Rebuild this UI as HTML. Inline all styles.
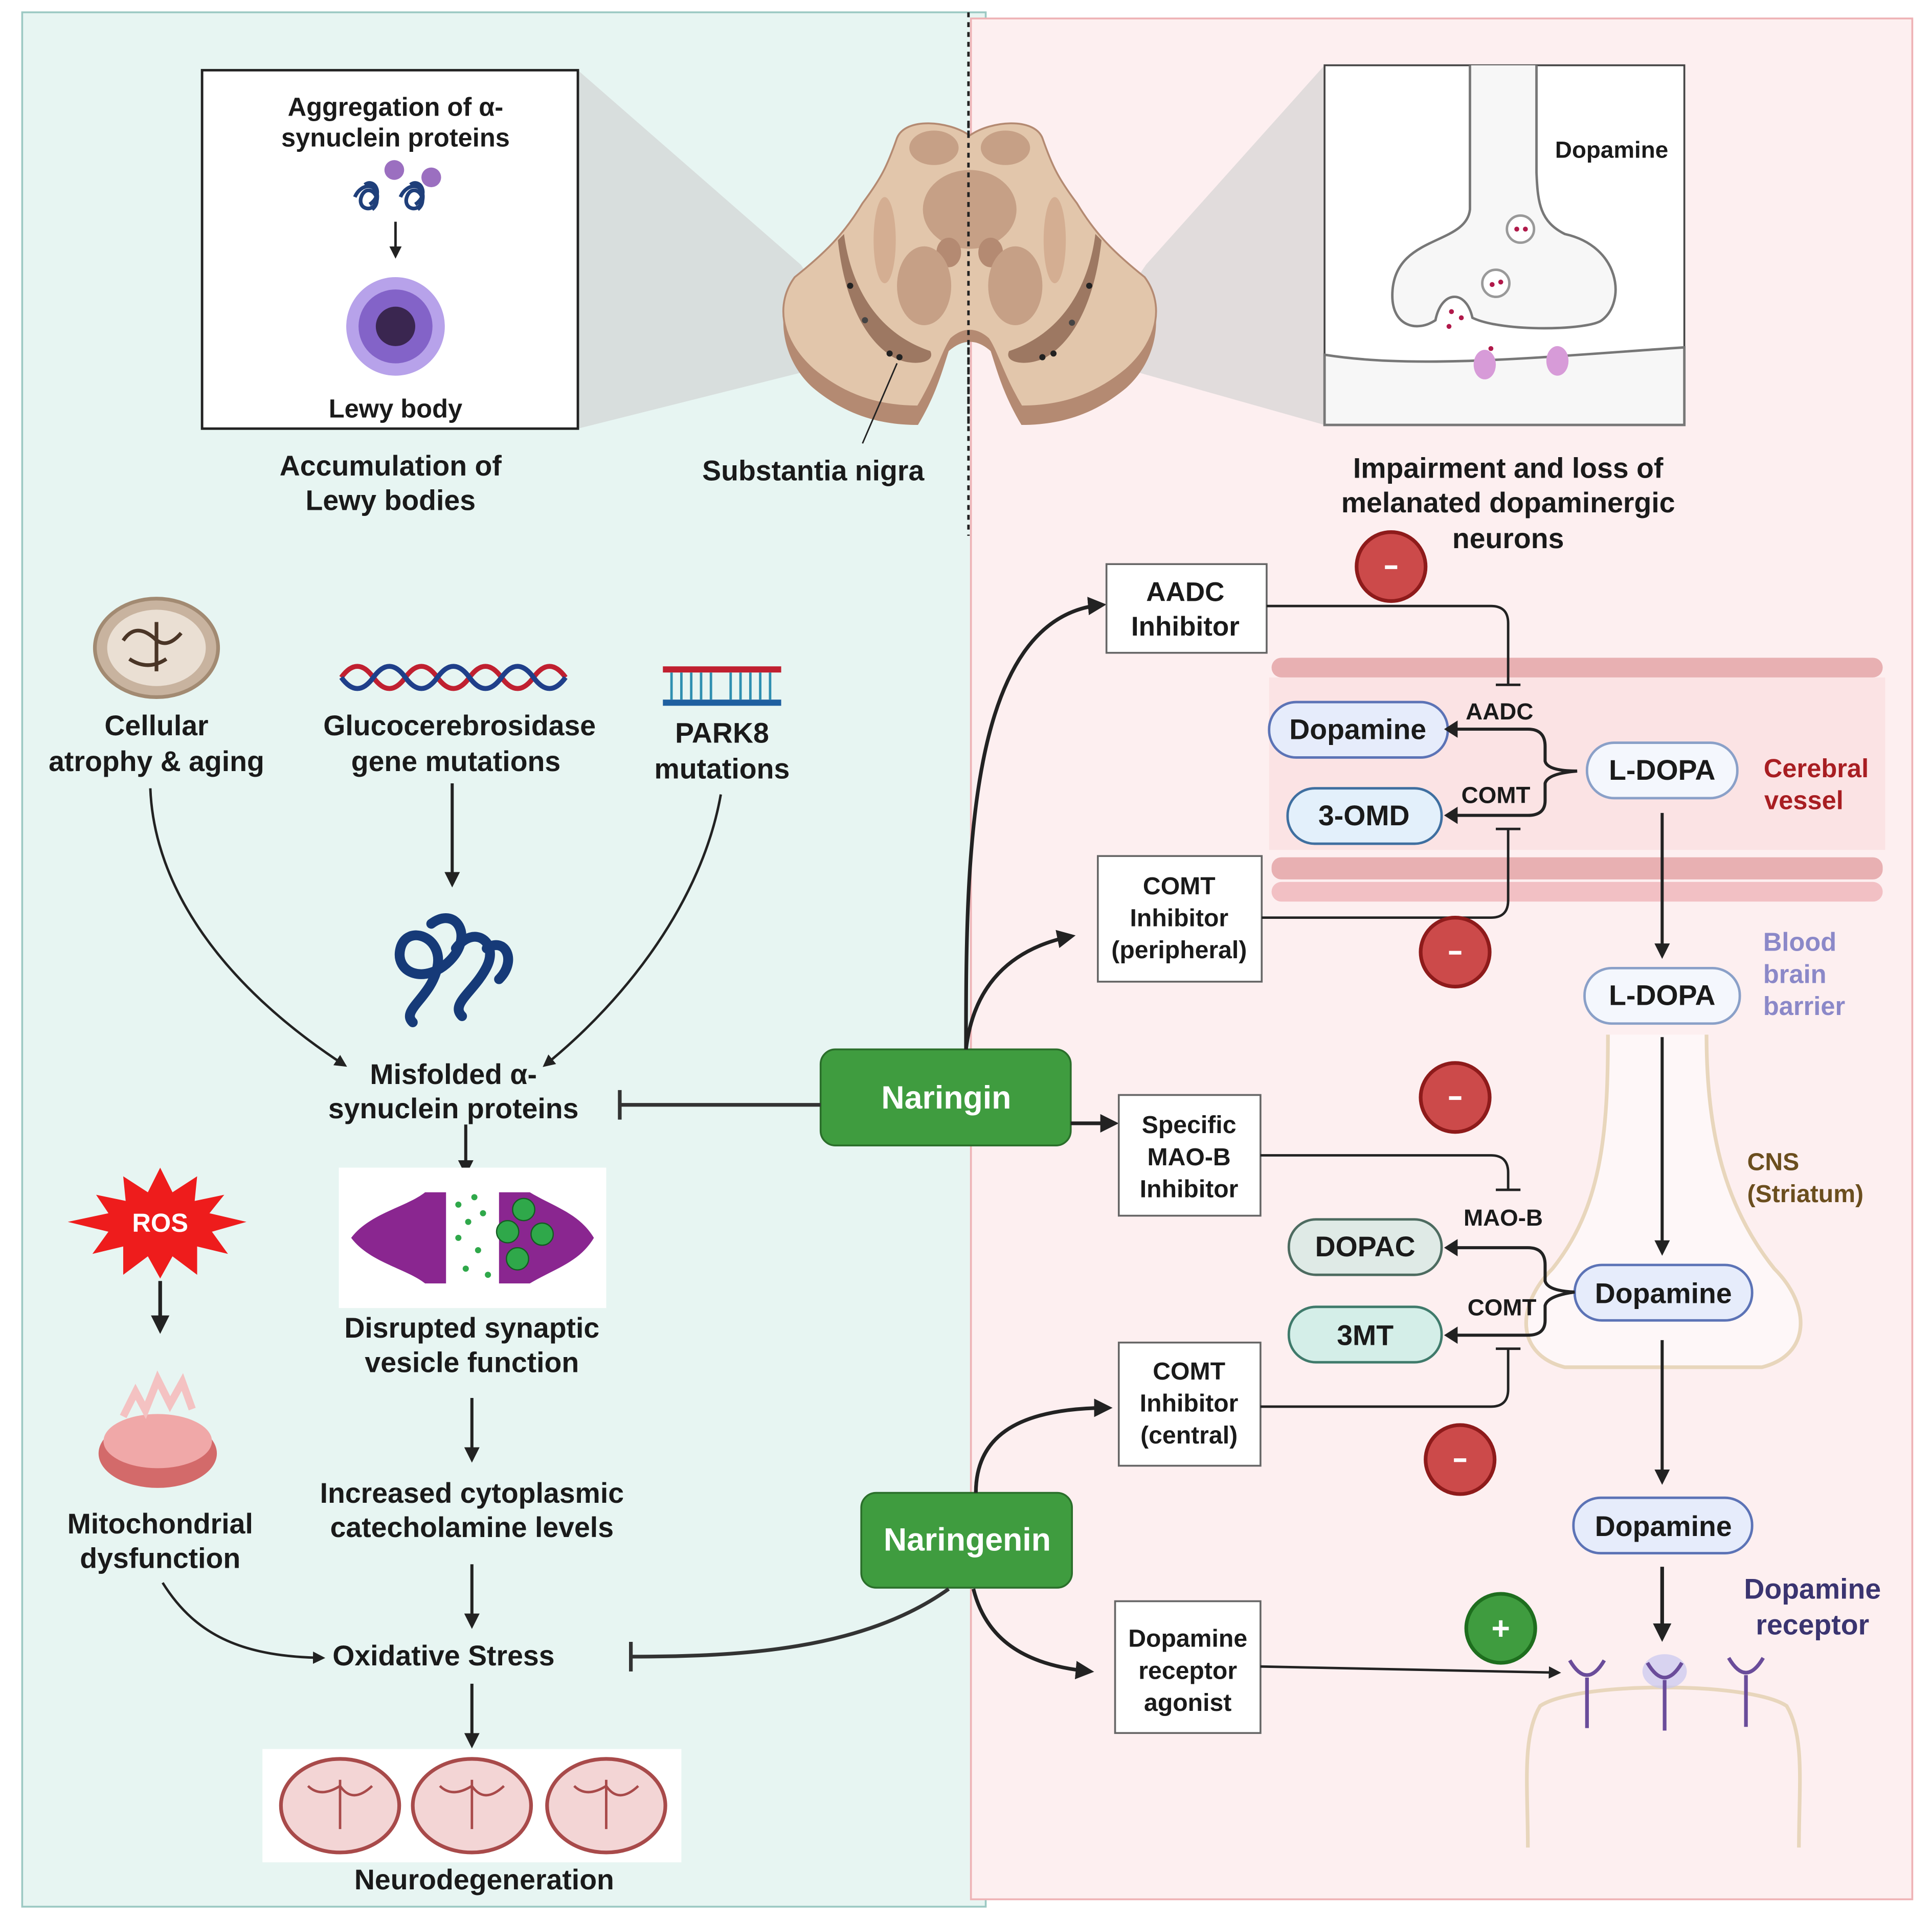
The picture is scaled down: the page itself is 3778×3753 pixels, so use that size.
<!DOCTYPE html>
<html><head><meta charset="utf-8"><style>
html,body{margin:0;padding:0;background:#fff;}
svg{display:block;}
text{font-family:"Liberation Sans",sans-serif;font-weight:bold;fill:#1a1a1a;}
</style></head><body>
<svg width="3778" height="3753" viewBox="0 0 1568 1558" preserveAspectRatio="none" xmlns="http://www.w3.org/2000/svg">
<defs>
<marker id="ah" viewBox="0 0 10 10" refX="8" refY="5" markerWidth="5" markerHeight="5" orient="auto-start-reverse"><path d="M0,0 L10,5 L0,10 z" fill="#222"/></marker>
</defs>
<rect width="1568" height="1558" fill="#fff"/>
<!-- panels -->
<rect x="18" y="10" width="782" height="1538" fill="#e7f5f2" stroke="#9cc9c3" stroke-width="1.5"/>
<rect x="788" y="15" width="764" height="1527" fill="#fdeff0" stroke="#eeb2b5" stroke-width="1.5"/>
<line x1="786" y1="10" x2="786" y2="435" stroke="#222" stroke-width="2" stroke-dasharray="4,4"/>

<!-- gray cones -->
<polygon points="469,57 469,348 700,290 650,215" fill="#cfcfcf" opacity="0.6"/>
<polygon points="1075,53 1075,345 880,290 930,215" fill="#cfcfcf" opacity="0.6"/>

<!-- brain section -->
<g>
<path d="M787,115 C770,100 735,95 728,115 C720,140 715,150 700,170 C685,195 670,215 645,230 C630,250 632,290 660,315 C690,340 720,345 745,345 C760,320 765,300 770,285 Q787,270 804,285 C809,300 814,320 829,345 C854,345 884,340 914,315 C942,290 944,250 929,230 C904,215 889,195 874,170 C859,150 854,140 846,115 C839,95 804,100 787,115 z" fill="#b48a72"/>
<path d="M787,110 C770,98 735,95 728,112 C720,135 715,145 700,165 C685,190 670,205 645,225 C630,245 632,275 660,300 C690,325 720,330 745,330 C760,305 765,285 772,275 Q787,262 802,275 C809,285 814,305 829,330 C854,330 884,325 914,300 C942,275 944,245 929,225 C904,205 889,190 874,165 C859,145 854,135 846,112 C839,95 804,98 787,110 z" fill="#e2c6ab" stroke="#b48a72" stroke-width="1.5"/>
<ellipse cx="758" cy="120" rx="20" ry="14" fill="#c6a086"/>
<ellipse cx="816" cy="120" rx="20" ry="14" fill="#c6a086"/>
<ellipse cx="787" cy="170" rx="38" ry="32" fill="#c6a086"/>
<ellipse cx="770" cy="205" rx="10" ry="12" fill="#b48a72"/>
<ellipse cx="804" cy="205" rx="10" ry="12" fill="#b48a72"/>
<ellipse cx="750" cy="232" rx="22" ry="32" fill="#c6a086"/>
<ellipse cx="824" cy="232" rx="22" ry="32" fill="#c6a086"/>
<ellipse cx="718" cy="195" rx="9" ry="35" fill="#d4ae92"/>
<ellipse cx="856" cy="195" rx="9" ry="35" fill="#d4ae92"/>
<path d="M685,190 C690,230 710,270 755,285 C760,295 740,298 725,290 C700,275 685,240 680,195 z" fill="#9d7862"/>
<path d="M889,190 C884,230 864,270 819,285 C814,295 834,298 849,290 C874,275 889,240 894,195 z" fill="#9d7862"/>
<circle cx="690" cy="232" r="2.5" fill="#222"/><circle cx="730" cy="290" r="2.5" fill="#222"/><circle cx="722" cy="287" r="2.5" fill="#222"/>
<circle cx="884" cy="232" r="2.5" fill="#222"/><circle cx="846" cy="290" r="2.5" fill="#222"/><circle cx="855" cy="287" r="2.5" fill="#222"/>
<circle cx="702" cy="260" r="2.5" fill="#444"/><circle cx="870" cy="262" r="2.5" fill="#444"/>
<line x1="728" y1="295" x2="700" y2="360" stroke="#222" stroke-width="1.2"/>
</g>
<line x1="786" y1="100" x2="786" y2="350" stroke="#222" stroke-width="2" stroke-dasharray="4,4"/>

<!-- left top box -->
<rect x="164" y="57" width="305" height="291" fill="#fff" stroke="#222" stroke-width="2"/>
<text x="321" y="94" font-size="21" text-anchor="middle">Aggregation of α-</text>
<text x="321" y="119" font-size="21" text-anchor="middle">synuclein proteins</text>
<g fill="none" stroke="#1f3f7a" stroke-width="3">
<path d="M288,160 c5,-12 20,-12 18,2 c-2,12 -18,8 -12,-4 c6,-10 18,4 8,12 M296,150 c8,-6 16,8 4,16"/>
<path d="M325,160 c5,-12 20,-12 18,2 c-2,12 -18,8 -12,-4 c6,-10 18,4 8,12 M333,150 c8,-6 16,8 4,16"/>
</g>
<circle cx="320" cy="138" r="8" fill="#9b6fc0"/><circle cx="350" cy="144" r="8" fill="#9b6fc0"/>
<line x1="321" y1="180" x2="321" y2="208" stroke="#222" stroke-width="2" marker-end="url(#ah)"/>
<circle cx="321" cy="265" r="40" fill="#b7a2ea"/>
<circle cx="321" cy="265" r="30" fill="#8363c8"/>
<circle cx="321" cy="265" r="16" fill="#3a2650"/>
<text x="321" y="339" font-size="21" text-anchor="middle">Lewy body</text>
<text x="317" y="386" font-size="23" text-anchor="middle">Accumulation of</text>
<text x="317" y="414" font-size="23" text-anchor="middle">Lewy bodies</text>
<text x="660" y="390" font-size="23" text-anchor="middle">Substantia nigra</text>

<!-- right top box -->
<rect x="1075" y="53" width="292" height="292" fill="#fff" stroke="#444" stroke-width="1.5"/>
<path d="M1193,53 L1193,170 C1190,200 1130,190 1130,240 C1130,265 1150,270 1165,260 C1170,235 1190,235 1195,258 C1220,270 1290,268 1300,260 C1320,245 1315,200 1270,190 C1250,180 1248,165 1247,140 L1247,53" fill="#f7f7f7" stroke="#777" stroke-width="2"/>
<path d="M1075,288 C1150,300 1250,290 1367,282 L1367,345 L1075,345 z" fill="#f7f7f7" stroke="#777" stroke-width="2"/>
<circle cx="1234" cy="186" r="11" fill="#fff" stroke="#999" stroke-width="2"/>
<circle cx="1214" cy="230" r="11" fill="#fff" stroke="#999" stroke-width="2"/>
<circle cx="1231" cy="186" r="2" fill="#b0194a"/><circle cx="1238" cy="186" r="2" fill="#b0194a"/>
<circle cx="1211" cy="231" r="2" fill="#b0194a"/><circle cx="1218" cy="229" r="2" fill="#b0194a"/>
<circle cx="1178" cy="253" r="2" fill="#b0194a"/><circle cx="1186" cy="258" r="2" fill="#b0194a"/><circle cx="1176" cy="265" r="2" fill="#b0194a"/><circle cx="1210" cy="283" r="2" fill="#b0194a"/>
<ellipse cx="1205" cy="296" rx="9" ry="12" fill="#d79bd8"/><ellipse cx="1264" cy="293" rx="9" ry="12" fill="#d79bd8"/>
<text x="1308" y="128" font-size="19" text-anchor="middle">Dopamine</text>
<text x="1224" y="388" font-size="23" text-anchor="middle">Impairment and loss of</text>
<text x="1224" y="416" font-size="23" text-anchor="middle">melanated dopaminergic</text>
<text x="1224" y="445" font-size="23" text-anchor="middle">neurons</text>

<!-- causes row -->
<ellipse cx="127" cy="526" rx="50" ry="40" fill="#c8b39f" stroke="#a28a72" stroke-width="3"/>
<ellipse cx="127" cy="526" rx="40" ry="31" fill="#eadfd3"/>
<path d="M100,520 q10,-15 25,-2 q10,10 22,-4 M105,535 q15,10 30,0 M127,505 l0,40" stroke="#4a3526" stroke-width="3" fill="none"/>
<text x="127" y="597" font-size="23" text-anchor="middle">Cellular</text>
<text x="127" y="626" font-size="23" text-anchor="middle">atrophy &amp; aging</text>
<path d="M277,550 q13,-18 26,0 t26,0 t26,0 t26,0 t26,0 t26,0 t26,0" stroke="#c02030" stroke-width="4" fill="none"/>
<path d="M277,550 q13,18 26,0 t26,0 t26,0 t26,0 t26,0 t26,0 t26,0" stroke="#1f3f8a" stroke-width="4" fill="none"/>
<text x="373" y="597" font-size="23" text-anchor="middle">Glucocerebrosidase</text>
<text x="370" y="626" font-size="23" text-anchor="middle">gene mutations</text>
<rect x="538" y="541" width="96" height="5" fill="#c02030"/>
<rect x="538" y="568" width="96" height="5" fill="#1f5fa0"/>
<g stroke="#2f8fb0" stroke-width="2"><line x1="545" y1="546" x2="545" y2="568"/><line x1="553" y1="546" x2="553" y2="568"/><line x1="561" y1="546" x2="561" y2="568"/><line x1="569" y1="546" x2="569" y2="568"/><line x1="577" y1="546" x2="577" y2="568"/><line x1="593" y1="546" x2="593" y2="568"/><line x1="601" y1="546" x2="601" y2="568"/><line x1="609" y1="546" x2="609" y2="568"/><line x1="617" y1="546" x2="617" y2="568"/><line x1="625" y1="546" x2="625" y2="568"/></g>
<text x="586" y="603" font-size="23" text-anchor="middle">PARK8</text>
<text x="586" y="632" font-size="23" text-anchor="middle">mutations</text>

<!-- arrows to misfolded -->
<path d="M122,640 C125,720 180,800 280,865" stroke="#222" stroke-width="2" fill="none" marker-end="url(#ah)"/>
<line x1="367" y1="636" x2="367" y2="718" stroke="#222" stroke-width="2.5" marker-end="url(#ah)"/>
<path d="M585,645 C570,730 510,810 442,865" stroke="#222" stroke-width="2" fill="none" marker-end="url(#ah)"/>
<g fill="none" stroke="#163a78" stroke-width="8" stroke-linecap="round">
<path d="M350,750 c20,-15 35,10 15,30 c-20,20 -45,10 -40,-10 c5,-20 35,-10 30,15 c-5,25 -30,35 -20,45"/>
<path d="M370,770 c15,-20 35,-5 25,15 c-10,20 -30,30 -20,40"/>
<path d="M395,770 c15,-10 25,10 10,25"/>
</g>
<text x="368" y="880" font-size="23" text-anchor="middle">Misfolded α-</text>
<text x="368" y="908" font-size="23" text-anchor="middle">synuclein proteins</text>
<line x1="378" y1="913" x2="378" y2="952" stroke="#222" stroke-width="2.5" marker-end="url(#ah)"/>

<!-- synapse image -->
<rect x="275" y="948" width="217" height="114" fill="#fff"/>
<path d="M285,1005 C300,985 330,980 345,968 L362,968 L362,1042 L345,1042 C330,1030 300,1025 285,1005 z" fill="#8a2690"/>
<path d="M482,1005 C470,985 450,980 430,968 L405,968 L405,1042 L430,1042 C450,1030 470,1025 482,1005 z" fill="#8a2690"/>
<g fill="#2fa84a"><circle cx="372" cy="978" r="2.5"/><circle cx="380" cy="992" r="2.5"/><circle cx="372" cy="1005" r="2.5"/><circle cx="388" cy="1015" r="2.5"/><circle cx="378" cy="1030" r="2.5"/><circle cx="392" cy="985" r="2.5"/><circle cx="396" cy="1035" r="2.5"/><circle cx="385" cy="972" r="2.5"/></g>
<circle cx="412" cy="1000" r="9" fill="#2fa84a" stroke="#145c22"/><circle cx="440" cy="1002" r="9" fill="#2fa84a" stroke="#145c22"/><circle cx="420" cy="1022" r="9" fill="#2fa84a" stroke="#145c22"/><circle cx="425" cy="982" r="9" fill="#2fa84a" stroke="#145c22"/>
<text x="383" y="1086" font-size="23" text-anchor="middle">Disrupted synaptic</text>
<text x="383" y="1114" font-size="23" text-anchor="middle">vesicle function</text>
<line x1="383" y1="1135" x2="383" y2="1185" stroke="#222" stroke-width="2.5" marker-end="url(#ah)"/>
<text x="383" y="1220" font-size="23" text-anchor="middle">Increased cytoplasmic</text>
<text x="383" y="1248" font-size="23" text-anchor="middle">catecholamine levels</text>
<line x1="383" y1="1270" x2="383" y2="1320" stroke="#222" stroke-width="2.5" marker-end="url(#ah)"/>
<text x="360" y="1352" font-size="23" text-anchor="middle">Oxidative Stress</text>
<line x1="383" y1="1367" x2="383" y2="1417" stroke="#222" stroke-width="2.5" marker-end="url(#ah)"/>
<rect x="213" y="1420" width="340" height="92" fill="#fff"/>
<g fill="#f3d5d5" stroke="#a84a4a" stroke-width="3">
<ellipse cx="276" cy="1466" rx="48" ry="38"/><ellipse cx="383" cy="1466" rx="48" ry="38"/><ellipse cx="492" cy="1466" rx="48" ry="38"/>
</g>
<g stroke="#a84a4a" stroke-width="2" fill="none">
<path d="M250,1450 q10,10 26,0 q10,15 26,0 M276,1445 l0,40"/><path d="M357,1450 q10,10 26,0 q10,15 26,0 M383,1445 l0,40"/><path d="M466,1450 q10,10 26,0 q10,15 26,0 M492,1445 l0,40"/>
</g>
<text x="393" y="1534" font-size="23" text-anchor="middle">Neurodegeneration</text>

<!-- ROS -->
<polygon points="130,948 140,968 160,955 158,975 182,970 170,985 200,992 172,1000 185,1018 160,1012 160,1035 140,1020 130,1038 120,1020 100,1035 100,1012 75,1018 88,1000 55,992 88,985 78,970 102,975 100,955 120,968" fill="#ee1c1c"/>
<text x="130" y="1000" font-size="21" text-anchor="middle" style="fill:#fff">ROS</text>
<line x1="130" y1="1040" x2="130" y2="1080" stroke="#222" stroke-width="3" marker-end="url(#ah)"/>
<ellipse cx="128" cy="1180" rx="48" ry="28" fill="#d36a6a"/>
<ellipse cx="128" cy="1170" rx="44" ry="22" fill="#f0a8a8"/>
<path d="M100,1150 l10,-20 l8,15 l10,-25 l10,20 l10,-18 l8,22" stroke="#f4c2c2" stroke-width="6" fill="none"/>
<text x="130" y="1245" font-size="23" text-anchor="middle">Mitochondrial</text>
<text x="130" y="1273" font-size="23" text-anchor="middle">dysfunction</text>
<path d="M132,1285 C160,1330 200,1345 262,1346" stroke="#222" stroke-width="2" fill="none" marker-end="url(#ah)"/>

<!-- naringin/naringenin -->
<rect x="666" y="852" width="203" height="78" rx="12" fill="#3f9c3f" stroke="#2b6f2b" stroke-width="1.5"/>
<text x="768" y="900" font-size="26" text-anchor="middle" style="fill:#fff">Naringin</text>
<rect x="699" y="1212" width="171" height="77" rx="12" fill="#3f9c3f" stroke="#2b6f2b" stroke-width="1.5"/>
<text x="785" y="1259" font-size="26" text-anchor="middle" style="fill:#fff">Naringenin</text>
<line x1="666" y1="897" x2="503" y2="897" stroke="#333" stroke-width="3"/><line x1="503" y1="885" x2="503" y2="909" stroke="#333" stroke-width="3"/>
<path d="M770,1290 C700,1340 600,1345 512,1345" stroke="#333" stroke-width="3" fill="none"/><line x1="512" y1="1333" x2="512" y2="1357" stroke="#333" stroke-width="3"/>
<path d="M784,852 C784,700 784,500 895,491" stroke="#222" stroke-width="3" fill="none" marker-end="url(#ah)"/>
<path d="M784,852 C790,800 820,770 870,760" stroke="#222" stroke-width="3" fill="none" marker-end="url(#ah)"/>
<line x1="869" y1="912" x2="905" y2="912" stroke="#222" stroke-width="3" marker-end="url(#ah)"/>
<path d="M792,1212 C792,1170 820,1143 900,1143" stroke="#222" stroke-width="3" fill="none" marker-end="url(#ah)"/>
<path d="M790,1290 C800,1330 830,1352 885,1357" stroke="#222" stroke-width="3" fill="none" marker-end="url(#ah)"/>

<!-- inhibitor boxes -->
<g fill="#fff" stroke="#666" stroke-width="1.5">
<rect x="898" y="458" width="130" height="72"/>
<rect x="891" y="695" width="133" height="102"/>
<rect x="908" y="889" width="115" height="98"/>
<rect x="908" y="1090" width="115" height="100"/>
<rect x="905" y="1300" width="118" height="107"/>
</g>
<text x="962" y="488" font-size="22" text-anchor="middle">AADC</text>
<text x="962" y="516" font-size="22" text-anchor="middle">Inhibitor</text>
<text x="957" y="726" font-size="20" text-anchor="middle">COMT</text>
<text x="957" y="752" font-size="20" text-anchor="middle">Inhibitor</text>
<text x="957" y="778" font-size="20" text-anchor="middle">(peripheral)</text>
<text x="965" y="920" font-size="20" text-anchor="middle">Specific</text>
<text x="965" y="946" font-size="20" text-anchor="middle">MAO-B</text>
<text x="965" y="972" font-size="20" text-anchor="middle">Inhibitor</text>
<text x="965" y="1120" font-size="20" text-anchor="middle">COMT</text>
<text x="965" y="1146" font-size="20" text-anchor="middle">Inhibitor</text>
<text x="965" y="1172" font-size="20" text-anchor="middle">(central)</text>
<text x="964" y="1337" font-size="20" text-anchor="middle">Dopamine</text>
<text x="964" y="1363" font-size="20" text-anchor="middle">receptor</text>
<text x="964" y="1389" font-size="20" text-anchor="middle">agonist</text>

<!-- vessel -->
<rect x="1030" y="550" width="500" height="140" fill="#fbe3e4"/>
<g fill="#e8b0b2">
<rect x="1032" y="534" width="496" height="16" rx="8"/>
<rect x="1032" y="696" width="496" height="18" rx="8"/>
</g>
<rect x="1032" y="716" width="496" height="16" rx="8" fill="#f2c0c4"/>
<text x="1474" y="631" font-size="21" text-anchor="middle" style="fill:#a81e22">Cerebral</text>
<text x="1464" y="657" font-size="21" text-anchor="middle" style="fill:#a81e22">vessel</text>
<text x="1431" y="772" font-size="21" style="fill:#8b88c8">Blood</text>
<text x="1431" y="798" font-size="21" style="fill:#8b88c8">brain</text>
<text x="1431" y="824" font-size="21" style="fill:#8b88c8">barrier</text>
<text x="1418" y="950" font-size="20" style="fill:#6b4e1e">CNS</text>
<text x="1418" y="976" font-size="20" style="fill:#6b4e1e">(Striatum)</text>
<text x="1471" y="1298" font-size="23" text-anchor="middle" style="fill:#3a3470">Dopamine</text>
<text x="1471" y="1327" font-size="23" text-anchor="middle" style="fill:#3a3470">receptor</text>

<!-- neuron outline -->
<path d="M1305,840 C1305,920 1300,980 1260,1030 C1230,1060 1230,1100 1270,1110 L1430,1110 C1470,1100 1470,1060 1440,1030 C1400,980 1385,920 1385,840" fill="#fff" fill-opacity="0.5" stroke="#e8d6bc" stroke-width="3"/>
<path d="M1240,1500 C1240,1450 1235,1410 1250,1385 C1280,1365 1420,1365 1450,1385 C1465,1410 1460,1450 1460,1500" fill="none" stroke="#e8d6bc" stroke-width="3"/>

<!-- pills -->
<g stroke-width="2">
<rect x="1030" y="570" width="145" height="45" rx="22" fill="#e6ecfb" stroke="#5c73b6"/>
<rect x="1045" y="640" width="125" height="45" rx="22" fill="#e3f0fb" stroke="#3f6fa0"/>
<rect x="1288" y="603" width="122" height="45" rx="22" fill="#f4f7fd" stroke="#8aa0c8"/>
<rect x="1286" y="786" width="126" height="45" rx="22" fill="#f4f7fd" stroke="#8aa0c8"/>
<rect x="1046" y="990" width="124" height="45" rx="22" fill="#dfeae6" stroke="#4d6b60"/>
<rect x="1046" y="1061" width="124" height="45" rx="22" fill="#d4eee8" stroke="#3f7a6b"/>
<rect x="1278" y="1027" width="144" height="45" rx="22" fill="#e6ecfb" stroke="#5c73b6"/>
<rect x="1277" y="1216" width="145" height="45" rx="22" fill="#e6ecfb" stroke="#5c73b6"/>
</g>
<text x="1102" y="600" font-size="23" text-anchor="middle">Dopamine</text>
<text x="1107" y="670" font-size="23" text-anchor="middle">3-OMD</text>
<text x="1349" y="633" font-size="23" text-anchor="middle">L-DOPA</text>
<text x="1349" y="816" font-size="23" text-anchor="middle">L-DOPA</text>
<text x="1108" y="1020" font-size="23" text-anchor="middle">DOPAC</text>
<text x="1108" y="1092" font-size="23" text-anchor="middle">3MT</text>
<text x="1350" y="1058" font-size="23" text-anchor="middle">Dopamine</text>
<text x="1350" y="1247" font-size="23" text-anchor="middle">Dopamine</text>

<!-- enzyme brackets -->
<g stroke="#222" stroke-width="2.5" fill="none">
<path d="M1178,592 L1240,592 Q1254,592 1254,606 L1254,618 Q1256,626 1280,626 Q1256,628 1254,636 L1254,650 Q1254,662 1240,662 L1178,662"/>
<path d="M1178,1013 L1240,1013 Q1254,1013 1254,1027 L1254,1040 Q1256,1048 1278,1049 Q1256,1052 1254,1060 L1254,1072 Q1254,1084 1240,1084 L1178,1084"/>
</g>
<path d="M1183,585 L1172,592 L1183,599 z" fill="#222"/><path d="M1183,655 L1172,662 L1183,669 z" fill="#222"/>
<path d="M1183,1006 L1172,1013 L1183,1020 z" fill="#222"/><path d="M1183,1077 L1172,1084 L1183,1091 z" fill="#222"/>
<text x="1217" y="584" font-size="19" text-anchor="middle">AADC</text>
<text x="1214" y="652" font-size="19" text-anchor="middle">COMT</text>
<text x="1220" y="995" font-size="19" text-anchor="middle">MAO-B</text>
<text x="1219" y="1068" font-size="19" text-anchor="middle">COMT</text>

<!-- inhibitor lines -->
<g stroke="#222" stroke-width="2" fill="none">
<path d="M1028,492 L1210,492 Q1224,492 1224,506 L1224,556"/><line x1="1214" y1="556" x2="1234" y2="556"/>
<path d="M1024,745 L1210,745 Q1224,745 1224,731 L1224,673"/><line x1="1214" y1="673" x2="1234" y2="673"/>
<path d="M1023,938 L1210,938 Q1224,938 1224,952 L1224,966"/><line x1="1214" y1="966" x2="1234" y2="966"/>
<path d="M1023,1142 L1210,1142 Q1224,1142 1224,1128 L1224,1095"/><line x1="1214" y1="1095" x2="1234" y2="1095"/>
</g>
<!-- vertical main arrows -->
<g stroke="#222" stroke-width="2.5">
<line x1="1349" y1="660" x2="1349" y2="776" marker-end="url(#ah)"/>
<line x1="1349" y1="842" x2="1349" y2="1017" marker-end="url(#ah)"/>
<line x1="1349" y1="1088" x2="1349" y2="1203" marker-end="url(#ah)"/>
<line x1="1349" y1="1272" x2="1349" y2="1330" stroke-width="3" marker-end="url(#ah)"/>
<line x1="1023" y1="1353" x2="1265" y2="1358" stroke-width="2" marker-end="url(#ah)"/>
</g>

<!-- receptors -->
<ellipse cx="1351" cy="1357" rx="18" ry="14" fill="#c8c8f0" opacity="0.7"/>
<g stroke="#6a4c9a" stroke-width="3" fill="none">
<path d="M1274,1348 Q1288,1372 1302,1348"/><line x1="1288" y1="1362" x2="1288" y2="1403"/>
<path d="M1337,1350 Q1351,1374 1365,1350"/><line x1="1351" y1="1364" x2="1351" y2="1405"/>
<path d="M1403,1346 Q1417,1370 1431,1346"/><line x1="1417" y1="1360" x2="1417" y2="1402"/>
</g>

<!-- red/green circles -->
<g fill="#cc4a4a" stroke="#8e1b1b" stroke-width="3">
<circle cx="1129" cy="460" r="28"/><circle cx="1181" cy="773" r="28"/><circle cx="1181" cy="891" r="28"/><circle cx="1185" cy="1185" r="28"/>
</g>
<g fill="#fff"><rect x="1124" y="459" width="10" height="3"/><rect x="1176" y="772" width="10" height="3"/><rect x="1176" y="890" width="10" height="3"/><rect x="1180" y="1184" width="10" height="3"/></g>
<circle cx="1218" cy="1322" r="28" fill="#3f9c3f" stroke="#1e6e1e" stroke-width="3"/>
<text x="1218" y="1331" font-size="26" text-anchor="middle" style="fill:#fff">+</text>
</svg>
</body></html>
